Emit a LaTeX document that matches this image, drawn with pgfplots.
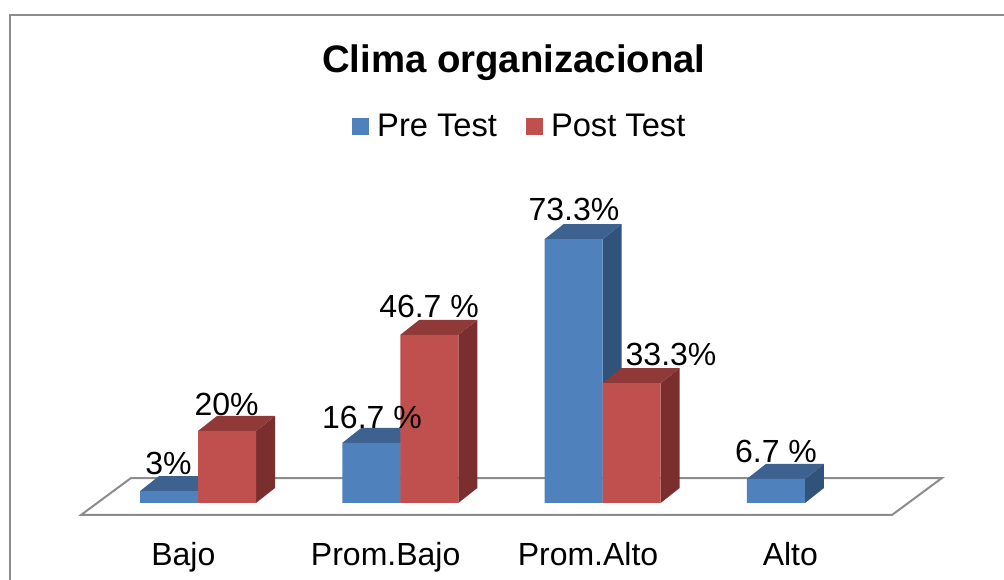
\documentclass[border=0pt]{standalone}
\usepackage{pgfplots}
\pgfplotsset{compat=1.18}
\usepackage{fontspec}
\setmainfont{Liberation Sans}
\definecolor{bfront}{HTML}{4F81BD}
\definecolor{btop}{HTML}{3D628F}
\definecolor{bside}{HTML}{31527A}
\definecolor{rfront}{HTML}{C0504D}
\definecolor{rtop}{HTML}{8F3A38}
\definecolor{rside}{HTML}{7A2F2E}
\definecolor{gline}{HTML}{8C8C8C}
\pgfplotsset{
  face/.style={sharp plot,no markers,forget plot,draw=none,fill=#1},
}
\begin{document}
\begin{tikzpicture}
\path[use as bounding box] (0,0) rectangle (753pt,435pt);
\begin{axis}[
  at={(0,0)},anchor=south west,
  scale only axis,width=753pt,height=435pt,
  xmin=-0.9786,xmax=3.9836,ymin=-21.39,ymax=139.72,
  axis line style={draw=none},
  xtick={0,1,2,3},
  xticklabels={Bajo,Prom.Bajo,Prom.Alto,Alto},
  ytick=\empty,
  tick style={draw=none},
  xticklabel style={font=\fontsize{24}{24}\selectfont,anchor=base,xshift=-11pt,yshift=11.2pt},
  title={\textbf{Clima organizacional}},
  title style={at={(axis description cs:0.5118,0.8776)},anchor=center,font=\fontsize{28.75}{30}\selectfont},
  legend columns=2,
  legend style={at={(axis description cs:0.5179,0.7825)},anchor=center,draw=none,fill=none,
    font=\fontsize{24.5}{24.5}\selectfont,
    /tikz/every even column/.append style={column sep=19.5pt},
    inner sep=0pt,outer sep=0pt},
  legend image code/.code={\fill[#1] (0pt,-6.4pt) rectangle (12.75pt,6.4pt);\path (17pt,0pt);},
]
% frame
\addplot[sharp plot,no markers,forget plot,draw=gline,line width=1.5pt] coordinates {(-0.9292,-21.39) (-0.9292,135.56) (3.9836,135.56)};
% floor
\addplot[sharp plot,no markers,forget plot,draw=gline,line width=1.5pt,fill=white] coordinates {(-0.5783,-3.33) (-0.3311,6.94) (3.6771,6.94) (3.4300,-3.33)} -- cycle;
% Pre Test sides and tops
\addplot[face=bside] coordinates {(0,0) (0.0939,4.17) (0.0939,7.47) (0,3.3)} -- cycle;
\addplot[face=btop] coordinates {(-0.2867,3.3) (-0.1928,7.47) (0.0939,7.47) (0,3.3)} -- cycle;
\addplot[face=bside] coordinates {(1,0) (1.0939,4.17) (1.0939,20.87) (1,16.7)} -- cycle;
\addplot[face=btop] coordinates {(0.7133,16.7) (0.8072,20.87) (1.0939,20.87) (1,16.7)} -- cycle;
\addplot[face=bside] coordinates {(2,0) (2.0939,4.17) (2.0939,77.47) (2,73.3)} -- cycle;
\addplot[face=btop] coordinates {(1.7133,73.3) (1.8072,77.47) (2.0939,77.47) (2,73.3)} -- cycle;
\addplot[face=bside] coordinates {(3,0) (3.0939,4.17) (3.0939,10.87) (3,6.7)} -- cycle;
\addplot[face=btop] coordinates {(2.7133,6.7) (2.8072,10.87) (3.0939,10.87) (3,6.7)} -- cycle;
% Pre Test fronts
\addplot[ybar,bar width=43.5pt,bar shift=-21.75pt,draw=none,fill=bfront] coordinates {(0,3.3) (1,16.7) (2,73.3) (3,6.7)};
\addlegendentry{Pre Test}
% Post Test sides and tops
\addplot[face=rside] coordinates {(0.2867,0) (0.3806,4.17) (0.3806,24.17) (0.2867,20)} -- cycle;
\addplot[face=rtop] coordinates {(0,20) (0.0939,24.17) (0.3806,24.17) (0.2867,20)} -- cycle;
\addplot[face=rside] coordinates {(1.2867,0) (1.3806,4.17) (1.3806,50.87) (1.2867,46.7)} -- cycle;
\addplot[face=rtop] coordinates {(1,46.7) (1.0939,50.87) (1.3806,50.87) (1.2867,46.7)} -- cycle;
\addplot[face=rside] coordinates {(2.2867,0) (2.3806,4.17) (2.3806,37.47) (2.2867,33.3)} -- cycle;
\addplot[face=rtop] coordinates {(2,33.3) (2.0939,37.47) (2.3806,37.47) (2.2867,33.3)} -- cycle;
% Post Test fronts
\addplot[ybar,bar width=43.5pt,bar shift=21.75pt,draw=none,fill=rfront] coordinates {(0,20) (1,46.7) (2,33.3)};
\addlegendentry{Post Test}
% value labels
\begin{scope}[every node/.style={font=\fontsize{24}{24}\selectfont,inner sep=0pt,anchor=center}]
\node at (axis cs:-0.146,10.9) {3\%};
\node at (axis cs:0.141,27.5) {20\%};
\node at (axis cs:0.860,23.7) {16.7 \%};
\node at (axis cs:1.142,54.5) {46.7 \%};
\node at (axis cs:1.858,81.4) {73.3\%};
\node at (axis cs:2.338,41.2) {33.3\%};
\node at (axis cs:2.857,14.44) {6.7 \%};
\end{scope}
\end{axis}
\end{tikzpicture}
\end{document}
